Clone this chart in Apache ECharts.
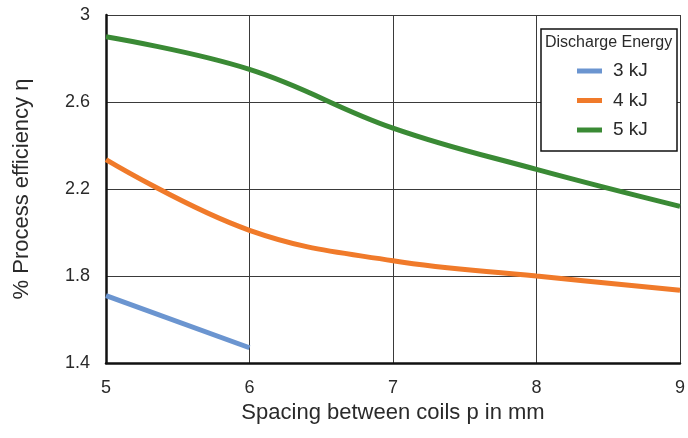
<!DOCTYPE html>
<html>
<head>
<meta charset="utf-8">
<script src="https://cdn.jsdelivr.net/npm/echarts@6/dist/echarts.min.js"></script>
<style>
  html, body { margin: 0; padding: 0; background: #fff; }
  #chart { width: 688px; height: 438px; }
</style>
</head>
<body>
<div id="chart"></div>
<script>
// Coil spacing p (mm)
const spacing = [5, 6, 7, 8, 9];
// Process efficiency for each discharge energy
const eff3kJ = [1.71, 1.47];
const eff4kJ = [2.335, 2.01, 1.87, 1.80, 1.735];
const eff5kJ = [2.90, 2.75, 2.48, 2.29, 2.12];
const seriesNames = ['3 kJ', '4 kJ', '5 kJ'];
const colors = ['#6b95d0', '#f07a2a', '#3a8a35'];

const pairs = (xs, ys) => ys.map((y, i) => [xs[i], y]);

const chart = echarts.init(document.getElementById('chart'));
const font = 'Liberation Sans, Arial, sans-serif';

chart.setOption({
  animation: false,
  textStyle: { fontFamily: font },
  grid: { left: 106, right: 2, top: 15, bottom: 75, containLabel: false },
  xAxis: {
    type: 'value', min: 5, max: 9, interval: 1,
    name: 'Spacing between coils p in mm',
    nameLocation: 'middle', nameGap: 37,
    nameTextStyle: { fontSize: 22, color: '#2a2a2a', fontFamily: font },
    axisLine: { show: true, onZero: false, lineStyle: { color: '#111', width: 2.5 } },
    axisTick: { show: false },
    axisLabel: { fontSize: 18, color: '#2a2a2a', margin: 16, fontFamily: font },
    splitLine: { show: true, lineStyle: { color: '#3a3a3a', width: 1 } }
  },
  yAxis: {
    type: 'value', min: 1.4, max: 3, interval: 0.4,
    name: '% Process efficiency η',
    nameLocation: 'middle', nameGap: 73,
    nameTextStyle: { fontSize: 22, color: '#2a2a2a', fontFamily: font },
    axisLine: { show: true, onZero: false, lineStyle: { color: '#111', width: 2.5 } },
    axisTick: { show: false },
    axisLabel: { fontSize: 18, color: '#2a2a2a', margin: 16, fontFamily: font,
      formatter: v => String(Math.round(v * 10) / 10) },
    splitLine: { show: true, lineStyle: { color: '#3a3a3a', width: 1 } }
  },
  legend: {
    orient: 'vertical', left: 577, top: 61, padding: 0, z: 20,
    itemWidth: 25, itemHeight: 5, itemGap: 9.5,
    icon: 'rect',
    textStyle: { fontSize: 19, color: '#2a2a2a', lineHeight: 20, padding: [0, 0, 0, 6], fontFamily: font },
    data: seriesNames
  },
  graphic: [
    {
      type: 'rect', z: 10,
      shape: { x: 541, y: 29, width: 136, height: 122 },
      style: { fill: '#fff', stroke: '#111', lineWidth: 1.5 }
    },
    {
      type: 'text', z: 11, left: 545, top: 35,
      style: { text: 'Discharge Energy', fontSize: 16, fill: '#2a2a2a', fontFamily: font }
    }
  ],
  series: [
    { name: seriesNames[0], type: 'line', data: pairs(spacing, eff3kJ), showSymbol: false,
      smooth: 0.3, lineStyle: { width: 5, color: colors[0] }, itemStyle: { color: colors[0] } },
    { name: seriesNames[1], type: 'line', data: pairs(spacing, eff4kJ), showSymbol: false,
      smooth: 0.4, lineStyle: { width: 5, color: colors[1] }, itemStyle: { color: colors[1] } },
    { name: seriesNames[2], type: 'line', data: pairs(spacing, eff5kJ), showSymbol: false,
      smooth: 0.4, lineStyle: { width: 5, color: colors[2] }, itemStyle: { color: colors[2] } }
  ]
});
</script>
</body>
</html>
